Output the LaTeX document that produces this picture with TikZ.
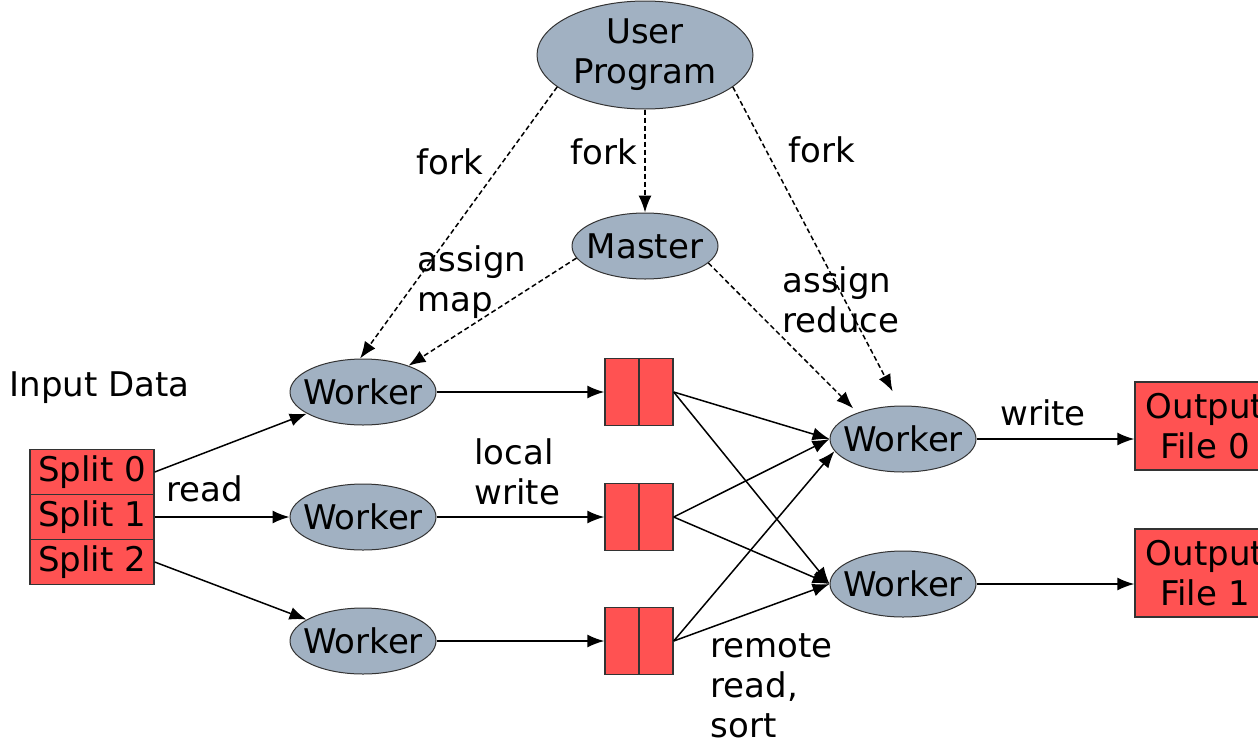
\documentclass[tikz,border=0pt]{standalone}
\usepackage{fontspec}
\setmainfont{DejaVu Sans}
\usetikzlibrary{arrows.meta,shapes.geometric,positioning,calc}
\definecolor{procfill}{RGB}{161,177,194}
\definecolor{filefill}{RGB}{255,82,82}
\tikzset{proc/.style = {ellipse,draw=black!80,fill=procfill,line width=1pt,inner xsep=-12pt,inner ysep=0pt,minimum width=146pt,minimum height=66pt},
        filebox/.style = {rectangle,draw=black!80,fill=filefill,line width=1.4pt,inner sep=0pt},
    split/.style = {filebox,minimum width=124pt,minimum height=45pt},
        mapfile/.style = {filebox,minimum width=68pt,minimum height=67pt},
        outfile/.style = {filebox,align=center,minimum width=140pt,minimum height=88pt},
    post/.style =   {-{Latex[length=17pt,width=13pt]},line width=1.5pt},
    ctrl/.style =   {post,dash pattern=on 5pt off 3pt}
}

\begin{document}
\begin{tikzpicture}[x=1pt,y=-1pt,font=\fontsize{34}{40}\selectfont]
 \useasboundingbox (0,0) rectangle (1258,742);
 \clip (0,0) rectangle (1258,742);

 \node[proc,align=center,minimum width=216pt,minimum height=108pt] (user) at (645,55) {User\\Program};
 \node[proc] (master) at (645,246) {Master};
 \node[proc] (wa) at (363,392) {Worker};
 \node[proc] (wb) at (363,517) {Worker};
 \node[proc] (wc) at (363,641) {Worker};
 \node[proc] (wr0) at (903,439) {Worker};
 \node[proc] (wr1) at (903,584) {Worker};

 % input splits
 \node[split] (s0) at (92,472) {Split 0};
 \node[split] (s1) at (92,517) {Split 1};
 \node[split] (s2) at (92,562) {Split 2};

 % intermediate files
 \foreach \m/\y in {m0/392,m1/517,m2/641}{
  \node[mapfile] (\m) at (639,\y) {};
  \draw[line width=1.4pt,black!80] (\m.north) -- (\m.south);
 }
 \node[outfile] (o0) at (1205,426) {Output\\File 0};
 \node[outfile] (o1) at (1205,573) {Output\\File 1};

 % fork / assign
 \draw[ctrl] (user.200) -- (wa.95);
 \draw[ctrl] (user.south) -- (master.north);
 \draw[ctrl,shorten >=16pt] (user.340) -- (wr0.95);
 \draw[ctrl] (master.190) -- (wa.30);
 \draw[ctrl,shorten >=6pt] (master.345) -- (wr0.150);

 \draw[post] (s0.east) -- (wa);
 \draw[post] (s1.east) -- (wb);
 \draw[post] (s2.east) -- (wc);
 \draw[post] (wa) -- (m0);
 \draw[post] (wb) -- (m1);
 \draw[post] (wc) -- (m2);
 \foreach \m in {m0,m1}{
  \draw[post] (\m.east) -- (wr0.west);
  \draw[post] (\m.east) -- (wr1.west);
 }
 \draw[post] (m2.east) -- (wr0.190);
 \draw[post] (m2.east) -- (wr1.west);
 \draw[post] (wr0.east) -- (wr0.east -| o0.west);
 \draw[post] (wr1.east) -- (wr1.east -| o1.west);

 \node (fork1) at (450,162) {fork};
 \node (fork2) at (604,152) {fork};
 \node (fork3) at (822,150) {fork};
 \node[anchor=west,align=left] (amap) at (414,282) {assign\\map};
 \node[anchor=west,align=left] (ared) at (779,300) {assign\\reduce};
 \node[anchor=west] (input) at (6,388) {Input Data};
 \node (read) at (205,489) {read};
 \node[anchor=west,align=left] (lwrite) at (471,472) {local\\write};
 \node (write) at (1043,413) {write};
 \node[anchor=west,align=left] (remote) at (707,686) {remote\\read,\\sort};
\end{tikzpicture}
\end{document}
